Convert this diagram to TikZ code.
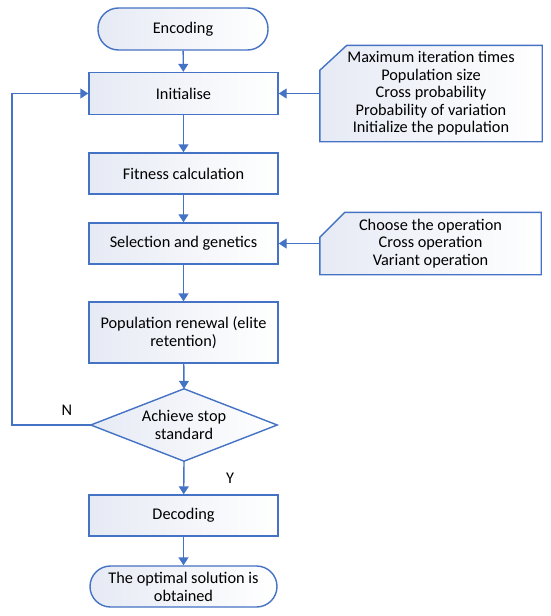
\documentclass[tikz,border=0pt]{standalone}
\usepackage{fontspec}
\setmainfont{Carlito}
\usetikzlibrary{arrows.meta,backgrounds}
\definecolor{bl}{RGB}{68,114,196}
\definecolor{fl}{RGB}{230,234,244}
\begin{document}
\begin{tikzpicture}[x=1pt,y=-1pt,
  txt/.style={font=\fontsize{16.3}{18}\selectfont,align=center,inner sep=0pt},
  shade/.style={left color=fl,right color=white},
  outline/.style={draw=bl,line width=1.4pt},
  proc/.style={txt,rectangle,outline,shade,minimum width=189pt,minimum height=41pt},
  term/.style={txt,rectangle,outline,shade,rounded corners=20.5pt,minimum height=42pt},
  frame/.style={txt,rectangle,draw=none,fill=none},
  arr/.style={draw=bl,line width=1.4pt,-{Triangle[length=8pt,width=10pt]}},
  lbl/.style={font=\fontsize{16.3}{18}\selectfont,inner sep=0pt}]
\useasboundingbox (0,0) rectangle (550,616);

\node[term,minimum width=170pt] (enc) at (183,29) {Encoding};
\node[proc,minimum height=42pt] (init) at (183.5,93.5) {Initialise};
\node[proc] (fit) at (183.5,173.5) {Fitness calculation};
\node[proc] (sel) at (183.5,243.5) {Selection and genetics};
\node[proc,minimum height=61pt] (pop) at (183.5,332.5) {Population renewal (elite\\retention)};
\node[frame,minimum width=186pt,minimum height=72pt] (dia) at (184,425) {Achieve stop\\standard};
\node[proc] (dec) at (183.5,515.5) {Decoding};
\node[term,minimum width=187pt,minimum height=41pt] (opt) at (183.5,586.5) {The optimal solution is\\obtained};

\node[frame,minimum width=222pt,minimum height=96pt,font=\fontsize{16.3}{17.5}\selectfont] (n1) at (431,93.5)
  {Maximum iteration times\\Population size\\Cross probability\\Probability of variation\\Initialize the population};
\node[frame,minimum width=221pt,minimum height=62pt,font=\fontsize{16.3}{17.5}\selectfont] (n2) at (430.5,243.5)
  {Choose the operation\\Cross operation\\Variant operation};

\begin{scope}[on background layer]
  \path[outline,shade] (dia.north) -- (dia.east) -- (dia.south) -- (dia.west) -- cycle;
  \path[outline,shade] ([yshift=-25pt]n1.north west) -- ([xshift=27pt]n1.north west) -- (n1.north east)
    -- (n1.south east) -- (n1.south west) -- cycle;
  \path[outline,shade] ([yshift=-25pt]n2.north west) -- ([xshift=25pt]n2.north west) -- (n2.north east)
    -- (n2.south east) -- (n2.south west) -- cycle;
\end{scope}

\draw[arr] (enc) -- (init);
\draw[arr] (init) -- (fit);
\draw[arr] (fit) -- (sel);
\draw[arr] (sel) -- (pop);
\draw[arr] (pop) -- (dia.north);
\draw[arr] (dia.south) -- (dec);
\draw[arr] (dec) -- (opt);
\draw[arr] (n1.west) -- (init.east);
\draw[arr] (n2.west) -- (sel.east);

\coordinate (lp) at (12,0);
\draw[arr] (dia.west) -| (lp |- init.west) -- (init.west);

\node[lbl] (nl) at (67,410) {N};
\node[lbl] (yl) at (230,478) {Y};
\end{tikzpicture}
\end{document}
